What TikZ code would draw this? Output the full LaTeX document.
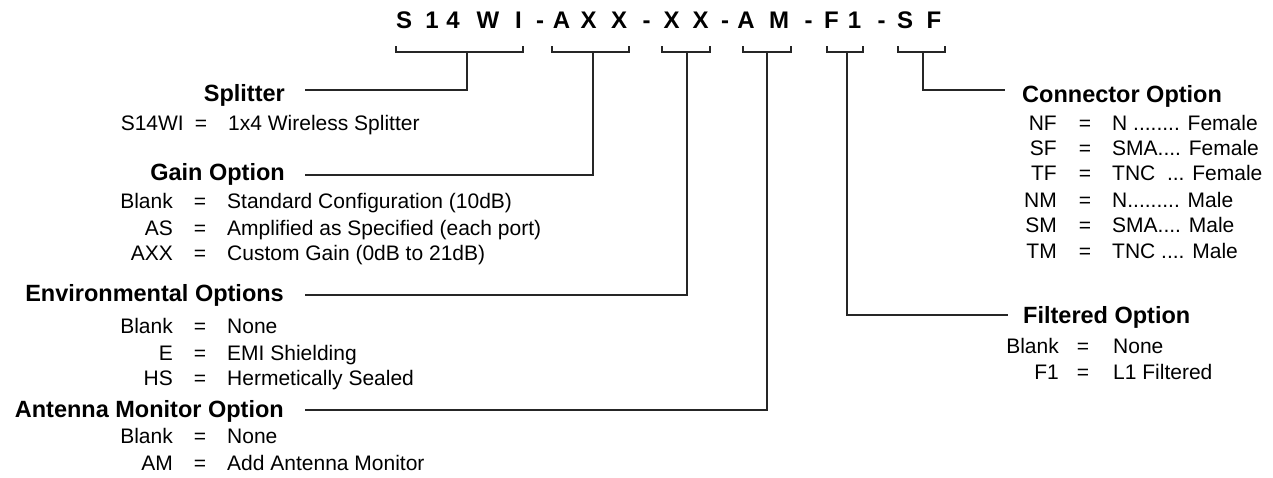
\documentclass[tikz,border=0pt]{standalone}
\usepackage{fontspec}
\setmainfont{Liberation Sans}
\begin{document}
\begin{tikzpicture}[x=1pt,y=-1pt,
  code/.style={font=\fontsize{24}{28}\selectfont\bfseries, anchor=base, inner sep=0pt},
  head/.style={font=\fontsize{23.5}{28}\selectfont\bfseries, inner sep=0pt},
  body/.style={font=\fontsize{21}{25}\selectfont, inner sep=0pt},
  key/.style={body, anchor=base east},
  eq/.style={body, anchor=base},
  desc/.style={body, anchor=base west},
  link/.style={line width=1.2pt, draw=black!85}]
\useasboundingbox (0,0) rectangle (1273,477);

% part number, one character per node
\foreach \ch/\x [count=\i] in {S/404, 1/432, 4/453, W/488, I/518.5, -/540,
    A/561.5, X/588.5, X/619, -/646.5, X/671.5, X/700.5, -/725,
    A/746, M/779, -/808.5, F/831.5, 1/854.5, -/881.5, S/905, F/934}
  \node[code] (c\i) at (\x,28.5) {\ch};

% brackets under each field
\foreach \l/\r/\s/\n in {396/523/467/1, 552/629/593/2, 662/710/687/3,
    743/791/767/4, 827/863/847/5, 898/945/923/6} {
  \draw[link] (\l,46) |- (\r,52) -- (\r,46);
  \coordinate (b\n) at (\s,52);
}

% field headings
\node[head, anchor=base east] (hSplit) at (285,101) {Splitter};
\node[head, anchor=base east] (hGain) at (285,180) {Gain Option};
\node[head, anchor=base east] (hEnv) at (284,301) {Environmental Options};
\node[head, anchor=base east] (hAnt) at (284,417) {Antenna Monitor Option};
\node[head, anchor=base west] (hConn) at (1022,102) {Connector Option};
\node[head, anchor=base west] (hFilt) at (1023,323) {Filtered Option};

% line ends next to the headings
\coordinate (eSplit) at (305,90);
\coordinate (eGain) at (305,175);
\coordinate (eEnv) at (305,295);
\coordinate (eAnt) at (305,410);
\coordinate (eConn) at (1005,90);
\coordinate (eFilt) at (1008,315);

% leaders from the brackets to the headings
\draw[link] (b1) |- (eSplit);
\draw[link] (b2) |- (eGain);
\draw[link] (b3) |- (eEnv);
\draw[link] (b4) |- (eAnt);
\draw[link] (b6) |- (eConn);
\draw[link] (b5) |- (eFilt);

% Splitter
\node[key] (s1k) at (184,130) {S14WI};
\node[eq] (s1e) at (201,130) {=};
\node[desc] (s1d) at (228,130) {1x4 Wireless Splitter};

% Gain option
\foreach \k/\d/\y [count=\i] in {Blank/Standard Configuration (10dB)/208,
    AS/Amplified as Specified (each port)/235,
    AXX/Custom Gain (0dB to 21dB)/260} {
  \node[key] (g\i k) at (173,\y) {\k};
  \node[eq] (g\i e) at (200,\y) {=};
  \node[desc] (g\i d) at (227,\y) {\d};
}

% Environmental options
\foreach \k/\d/\y [count=\i] in {Blank/None/333, E/EMI Shielding/360,
    HS/Hermetically Sealed/385} {
  \node[key] (v\i k) at (173,\y) {\k};
  \node[eq] (v\i e) at (200,\y) {=};
  \node[desc] (v\i d) at (227,\y) {\d};
}

% Antenna monitor option
\foreach \k/\d/\y [count=\i] in {Blank/None/443, AM/Add Antenna Monitor/470} {
  \node[key] (a\i k) at (173,\y) {\k};
  \node[eq] (a\i e) at (200,\y) {=};
  \node[desc] (a\i d) at (227,\y) {\d};
}

% Connector option
\foreach \k/\d/\y [count=\i] in {NF/{N ........ Female}/130,
    SF/{SMA.... Female}/155,
    TF/{TNC\ \ ... Female}/180,
    NM/{N......... Male}/207,
    SM/{SMA.... Male}/232,
    TM/{TNC .... Male}/258} {
  \node[key] (n\i k) at (1057,\y) {\k};
  \node[eq] (n\i e) at (1085,\y) {=};
  \node[desc] (n\i d) at (1112,\y) {\d};
}

% Filtered option
\foreach \k/\d/\y [count=\i] in {Blank/None/353, F1/L1 Filtered/379} {
  \node[key] (f\i k) at (1059,\y) {\k};
  \node[eq] (f\i e) at (1083,\y) {=};
  \node[desc] (f\i d) at (1113,\y) {\d};
}
\end{tikzpicture}
\end{document}
